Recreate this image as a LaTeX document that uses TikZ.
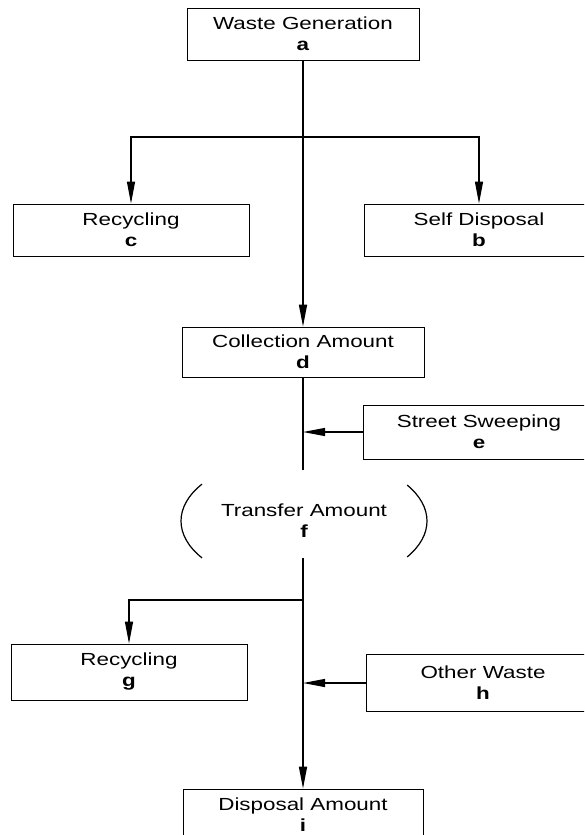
\documentclass[tikz,border=0pt]{standalone}
\usepackage{fontspec}
\setmainfont[FakeStretch=1.28]{Liberation Sans}
\usetikzlibrary{arrows.meta, positioning}

\begin{document}
\begin{tikzpicture}[
  x=1pt, y=-1pt,
  box/.style={rectangle, draw=black, line width=0.8pt,
              minimum width=234pt, minimum height=52pt,
              inner sep=0pt, align=center,
              font=\fontsize{17.5}{21}\selectfont},
  flow/.style={line width=1.5pt},
  arr/.style={-{Triangle[length=22pt, width=8pt]}, line width=1.2pt}
]
  \useasboundingbox (0,0) rectangle (584,835);
  \clip (0,0) rectangle (584,835);

  \node[box, minimum width=232pt] (gen) at (303,34)
    {Waste Generation\\\textbf{a}};

  \node[box, minimum width=236pt] (recc) at (131,230)
    {Recycling\\\textbf{c}};
  \node[box, minimum width=230pt] (self) at (479,230)
    {Self Disposal\\\textbf{b}};

  \node[box, minimum width=242pt, minimum height=50pt] (coll) at (303,352)
    {Collection Amount\\\textbf{d}};
  \node[box, minimum width=232pt, minimum height=54pt] (sweep) at (479,432)
    {Street Sweeping\\\textbf{e}};

  \node[align=center, inner sep=0pt,
        font=\fontsize{17.5}{21}\selectfont] (transfer) at (304,521)
    {Transfer Amount\\\textbf{f}};
  \coordinate (tin)  at (303,470);
  \coordinate (tout) at (303,558);

  \node[box, minimum width=236pt, minimum height=56pt] (recg) at (129,672)
    {Recycling\\\textbf{g}};
  \node[box, minimum width=234pt, minimum height=57pt] (other) at (483,683)
    {Other Waste\\\textbf{h}};

  \node[box, minimum width=240pt] (disp) at (303,815)
    {Disposal Amount\\\textbf{i}};

  \coordinate (split1) at (303,137);
  \coordinate (split2) at (303,600);

  % flow down the middle
  \draw[arr, flow] (gen.south) -- (coll.north);
  \draw[arr] (split1) -| (recc.north);
  \draw[arr] (split1) -| (self.north);

  \draw[flow] (coll.south) -- (tin);
  \draw[arr] (sweep.west) -- (sweep.west -| tin);

  \draw[line width=1.2pt, shift={(transfer.center)}]
    (146:123 and 66) arc[start angle=146, end angle=214,
                         x radius=123, y radius=66];
  \draw[line width=1.2pt, shift={(transfer.center)}]
    (-33:123 and 66) arc[start angle=-33, end angle=33,
                         x radius=123, y radius=66];

  \draw[arr, flow] (tout) -- (disp.north);
  \draw[arr] (split2) -| (recg.north);
  \draw[arr] (other.west) -- (other.west -| tout);
\end{tikzpicture}
\end{document}
